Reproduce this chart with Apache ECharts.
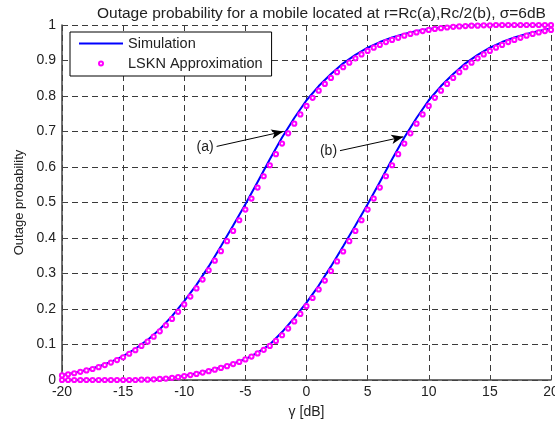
<!DOCTYPE html>
<html lang="en">
<head>
<meta charset="UTF-8">
<title>Outage probability</title>
<script src="https://cdn.jsdelivr.net/npm/echarts@6/dist/echarts.min.js"></script>
</head>
<body style="margin:0; background:#fff;">
<div id="chart" style="width:555px; height:425px;"></div>
<script type="text/javascript">
// gamma [dB] for the simulation curves (1 dB step)
var gammaSim = [-20, -19, -18, -17, -16, -15, -14, -13, -12, -11,
    -10, -9, -8, -7, -6, -5, -4, -3, -2, -1,
    0, 1, 2, 3, 4, 5, 6, 7, 8, 9,
    10, 11, 12, 13, 14, 15, 16, 17, 18, 19, 20];

// simulation, r = Rc  (a)
var simA = [0.014, 0.02, 0.028, 0.038, 0.051, 0.067, 0.088, 0.113, 0.143, 0.18,
    0.222, 0.268, 0.32, 0.377, 0.435, 0.495, 0.558, 0.622, 0.683, 0.738,
    0.788, 0.828, 0.862, 0.892, 0.916, 0.936, 0.952, 0.965, 0.975, 0.983,
    0.989, 0.993, 0.996, 0.998, 0.999, 1, 1, 1, 1, 1, 1];

// simulation, r = Rc/2  (b)
var simB = [0, 0, 0, 0, 0, 0, 0, 0.001, 0.003, 0.006,
    0.012, 0.018, 0.026, 0.035, 0.046, 0.059, 0.077, 0.1, 0.135, 0.175,
    0.218, 0.266, 0.32, 0.377, 0.435, 0.495, 0.558, 0.622, 0.683, 0.738,
    0.788, 0.828, 0.862, 0.892, 0.916, 0.936, 0.952, 0.965, 0.975, 0.983, 0.99];

// gamma [dB] for the LSKN markers (0.5 dB step)
var gammaApx = [-20, -19.5, -19, -18.5, -18, -17.5, -17, -16.5, -16, -15.5,
    -15, -14.5, -14, -13.5, -13, -12.5, -12, -11.5, -11, -10.5,
    -10, -9.5, -9, -8.5, -8, -7.5, -7, -6.5, -6, -5.5,
    -5, -4.5, -4, -3.5, -3, -2.5, -2, -1.5, -1, -0.5,
    0, 0.5, 1, 1.5, 2, 2.5, 3, 3.5, 4, 4.5,
    5, 5.5, 6, 6.5, 7, 7.5, 8, 8.5, 9, 9.5,
    10, 10.5, 11, 11.5, 12, 12.5, 13, 13.5, 14, 14.5,
    15, 15.5, 16, 16.5, 17, 17.5, 18, 18.5, 19, 19.5, 20];

var apxA = [0.013, 0.016, 0.019, 0.023, 0.027, 0.031, 0.036, 0.042, 0.049, 0.056,
    0.064, 0.074, 0.084, 0.096, 0.108, 0.122, 0.137, 0.154, 0.172, 0.192,
    0.213, 0.235, 0.258, 0.283, 0.309, 0.336, 0.363, 0.391, 0.42, 0.45,
    0.48, 0.511, 0.542, 0.574, 0.605, 0.636, 0.666, 0.695, 0.722, 0.748,
    0.772, 0.795, 0.815, 0.834, 0.851, 0.867, 0.881, 0.894, 0.906, 0.917,
    0.927, 0.936, 0.944, 0.952, 0.958, 0.964, 0.97, 0.975, 0.979, 0.983,
    0.986, 0.989, 0.991, 0.993, 0.995, 0.996, 0.997, 0.998, 0.998, 0.999,
    0.999, 1, 1, 1, 1, 1, 1, 1, 1, 1, 1];

var apxB = [0, 0, 0, 0, 0, 0, 0, 0, 0, 0,
    0, 0, 0, 0.001, 0.001, 0.002, 0.003, 0.004, 0.006, 0.008,
    0.011, 0.014, 0.017, 0.021, 0.025, 0.029, 0.034, 0.039, 0.045, 0.051,
    0.058, 0.066, 0.075, 0.085, 0.096, 0.11, 0.126, 0.145, 0.165, 0.186,
    0.208, 0.231, 0.255, 0.28, 0.307, 0.334, 0.362, 0.391, 0.42, 0.45,
    0.48, 0.511, 0.542, 0.574, 0.605, 0.636, 0.666, 0.695, 0.722, 0.748,
    0.772, 0.795, 0.815, 0.834, 0.851, 0.867, 0.881, 0.894, 0.906, 0.917,
    0.927, 0.936, 0.944, 0.952, 0.958, 0.964, 0.97, 0.975, 0.979, 0.983, 0.986];

// annotation arrows: [label, start gamma, start prob, end gamma, end prob]
var arrowA = ['(a)', -7.35, 0.658, -1.9, 0.70];
var arrowB = ['(b)', 2.74, 0.646, 7.92, 0.685];

var font = '"Liberation Sans", Arial, Helvetica, sans-serif';
var txt = '#222';

function pairs(xs, ys) {
    var out = [];
    for (var i = 0; i < xs.length; i++) out.push([xs[i], ys[i]]);
    return out;
}

function arrowLine(a) {
    return [{
        coord: [a[1], a[2]], symbol: 'none',
        label: { show: true, position: 'start', formatter: a[0], color: txt, fontSize: 14, fontFamily: font, distance: 3 }
    }, {
        coord: [a[3], a[4]], symbol: 'arrow', symbolSize: [7, 12]
    }];
}

var chart = echarts.init(document.getElementById('chart'), null, { renderer: 'canvas' });

var gridLine = { show: true, lineStyle: { color: '#3a3a3a', type: [6, 4], width: 1 } };

var markerStyle = { color: '#ff00ff', borderColor: '#ff00ff', borderWidth: 1.5 };

var option = {
    animation: false,
    backgroundColor: '#fff',
    textStyle: { fontFamily: font, color: txt },
    title: {
        text: 'Outage probability for a mobile located at r=Rc(a),Rc/2(b), \u03c3=6dB',
        left: 92, top: 1,
        textStyle: { fontSize: 15.5, fontWeight: 'normal', color: txt, fontFamily: font }
    },
    grid: { left: 62, right: 4, top: 25, bottom: 45, outerBoundsMode: 'none', containLabel: false },
    legend: {
        left: 70, top: 32, orient: 'vertical',
        padding: [4, 9, 5, 9], itemGap: 5,
        itemWidth: 44, itemHeight: 5,
        borderColor: '#000', borderWidth: 1, backgroundColor: '#fff',
        textStyle: { fontSize: 14.5, color: txt, fontFamily: font },
        data: [
            { name: 'Simulation', icon: 'path://M0,0 L44,0 L44,2 L0,2 Z' },
            'LSKN Approximation'
        ]
    },
    xAxis: {
        type: 'value', min: -20, max: 20, interval: 5,
        name: '\u03b3 [dB]', nameLocation: 'middle', nameGap: 25,
        nameTextStyle: { fontSize: 14, color: txt, fontFamily: font },
        axisLine: { show: true, onZero: false, lineStyle: { color: '#444', width: 1.5 } },
        axisTick: { show: true, inside: true, length: 5, lineStyle: { color: '#444' } },
        axisLabel: { fontSize: 14, color: txt, margin: 5, fontFamily: font },
        splitLine: gridLine
    },
    yAxis: {
        type: 'value', min: 0, max: 1, interval: 0.1,
        name: 'Outage probability', nameLocation: 'middle', nameGap: 35,
        nameTextStyle: { fontSize: 13, color: txt, fontFamily: font },
        axisLine: { show: true, onZero: false, lineStyle: { color: '#444', width: 1.5 } },
        axisTick: { show: true, inside: true, length: 5, lineStyle: { color: '#444' } },
        axisLabel: { fontSize: 14, color: txt, margin: 6, fontFamily: font },
        splitLine: gridLine
    },
    series: [
        {
            name: 'LSKN Approximation', type: 'line',
            data: pairs(gammaApx, apxA),
            symbol: 'emptyCircle', symbolSize: 4.2, showSymbol: true,
            itemStyle: markerStyle,
            lineStyle: { width: 0, opacity: 0 }
        },
        {
            name: 'LSKN Approximation', type: 'line',
            data: pairs(gammaApx, apxB),
            symbol: 'emptyCircle', symbolSize: 4.2, showSymbol: true,
            itemStyle: markerStyle,
            lineStyle: { width: 0, opacity: 0 }
        },
        {
            name: 'Simulation', type: 'line',
            data: pairs(gammaSim, simA),
            symbol: 'none', color: '#0000ff',
            lineStyle: { color: '#0000ff', width: 2 },
            markLine: {
                silent: true, animation: false,
                lineStyle: { color: '#000', width: 1, type: 'solid' },
                itemStyle: { color: '#000' },
                data: [arrowLine(arrowA)]
            }
        },
        {
            name: 'Simulation', type: 'line',
            data: pairs(gammaSim, simB),
            symbol: 'none', color: '#0000ff',
            lineStyle: { color: '#0000ff', width: 2 },
            markLine: {
                silent: true, animation: false,
                lineStyle: { color: '#000', width: 1, type: 'solid' },
                itemStyle: { color: '#000' },
                data: [arrowLine(arrowB)]
            }
        }
    ]
};

chart.setOption(option);
</script>
</body>
</html>
